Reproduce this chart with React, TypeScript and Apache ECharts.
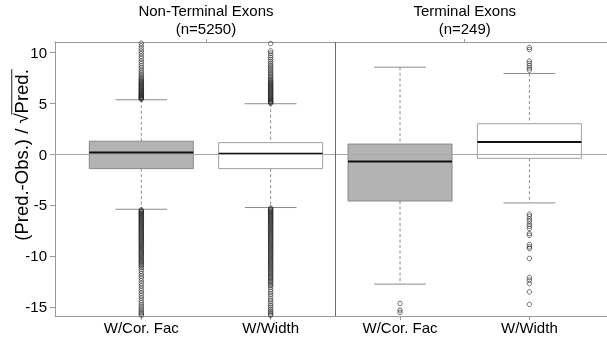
import React, { useEffect, useRef } from 'react';
import * as echarts from 'echarts';

const FONT = '"Liberation Sans", Arial, Helvetica, sans-serif';

// categories and panels
const categories = ['W/Cor. Fac', 'W/Width', 'W/Cor. Fac', 'W/Width'];
const categoryPositions = [1, 2, 3, 4];
const panelTitles = ['Non-Terminal Exons\n(n=5250)', 'Terminal Exons\n(n=249)'];
const panelCenters = [1.5, 3.5];
const panelDivider = 2.5;
const yTickValues = [-15, -10, -5, 0, 5, 10];
const yNameBefore = '(Pred.-Obs.) / \u221A';
const yNameRadicand = 'Pred.';

// box statistics: [lower whisker, Q1, median, Q3, upper whisker]
const boxNonTermCor = [-5.42, -1.43, 0.14, 1.26, 5.33];
const boxNonTermWidth = [-5.25, -1.43, 0.04, 1.12, 4.94];
const boxTermCor = [-12.77, -4.61, -0.72, 0.98, 8.53];
const boxTermWidth = [-4.8, -0.42, 1.18, 2.98, 7.91];
const boxFilled = [true, false, true, false];

// outliers
const outNonTermCor = [
  10.88, 10.62, 10.35, 10.1, 9.86, 9.6, 9.37, 9.12, 8.9, 8.66, 8.45, 8.22, 8.02, 7.85, 7.68, 7.52, 7.4, 7.28,
  7.18, 7.08, 6.98, 6.9, 6.81, 6.72, 6.63, 6.55, 6.46, 6.38, 6.3, 6.21, 6.13, 6.05, 5.97, 5.9, 5.82, 5.75,
  5.68, 5.61, 5.55, 5.49, 5.43, 5.38,
  -5.48, -5.56, -5.64, -5.72, -5.8, -5.89, -5.97, -6.06, -6.15, -6.24, -6.33, -6.42, -6.51, -6.6, -6.7,
  -6.79, -6.88, -6.98, -7.07, -7.17, -7.26, -7.36, -7.46, -7.55, -7.65, -7.75, -7.85, -7.95, -8.05, -8.15,
  -8.25, -8.35, -8.45, -8.55, -8.66, -8.76, -8.86, -8.97, -9.07, -9.18, -9.28, -9.39, -9.5, -9.6, -9.71,
  -9.82, -9.93, -10.04, -10.15, -10.26, -10.37, -10.49, -10.6, -10.72, -10.84, -10.96, -11.1, -11.3,
  -11.52, -11.75, -11.98, -12.2, -12.45, -12.7, -12.93, -13.18, -13.42, -13.66, -13.9, -14.14, -14.38,
  -14.6, -14.82, -15.03, -15.22, -15.4, -15.56, -15.7, -15.82,
];
const outNonTermWidth = [
  10.85, 10.12, 9.9, 9.68, 9.48, 9.28, 9.08, 8.9, 8.72, 8.55, 8.38, 8.22, 8.06, 7.9, 7.75, 7.6, 7.46, 7.33,
  7.2, 7.1, 7.0, 6.91, 6.82, 6.73, 6.64, 6.55, 6.46, 6.37, 6.28, 6.19, 6.1, 6.01, 5.92, 5.83, 5.74, 5.65,
  5.57, 5.49, 5.41, 5.33, 5.25, 5.18, 5.11, 5.04, 4.99,
  -5.3, -5.38, -5.47, -5.55, -5.64, -5.73, -5.82, -5.91, -6.0, -6.09, -6.18, -6.28, -6.37, -6.46, -6.56,
  -6.65, -6.75, -6.84, -6.94, -7.04, -7.13, -7.23, -7.33, -7.43, -7.53, -7.63, -7.73, -7.83, -7.93, -8.03,
  -8.13, -8.24, -8.34, -8.44, -8.55, -8.65, -8.75, -8.86, -8.96, -9.07, -9.17, -9.28, -9.39, -9.49, -9.6,
  -9.71, -9.82, -9.93, -10.04, -10.15, -10.26, -10.37, -10.48, -10.6, -10.71, -10.82, -10.94, -11.05,
  -11.17, -11.28, -11.4, -11.52, -11.64, -11.76, -11.88, -12.0, -12.12, -12.25, -12.38, -12.51, -12.64,
  -12.78, -12.92, -13.08, -13.3, -13.52, -13.75, -13.98, -14.22, -14.44, -14.66, -14.86, -15.05, -15.24,
  -15.42, -15.58, -15.72, -15.84,
];
const outTermCor = [-14.67, -15.32, -15.55];
const outTermWidth = [
  10.46, 10.26, 9.12, 8.9, 8.68, 8.45, 8.24,
  -5.91, -6.11, -6.37, -6.6, -6.89, -7.09, -7.31, -7.8, -7.97, -8.88, -9.12, -9.27, -10.25, -12.12, -12.38,
  -12.71, -13.53, -14.76,
];

const boxes = [boxNonTermCor, boxNonTermWidth, boxTermCor, boxTermWidth];
const outliers = [outNonTermCor, outNonTermWidth, outTermCor, outTermWidth];

export default function App() {
  const ref = useRef<HTMLDivElement>(null);

  useEffect(() => {
    if (!ref.current) return;
    const chart = echarts.init(ref.current, undefined, { renderer: 'svg' });

    const fs = 18.5;
    const canvas = document.createElement('canvas');
    const ctx = canvas.getContext('2d')!;
    ctx.font = `${fs}px ${FONT}`;
    const fullText = yNameBefore + yNameRadicand;
    const W = ctx.measureText(fullText).width;
    const preW = ctx.measureText(yNameBefore).width;
    const radW = ctx.measureText('\u221A').width;

    const boxData = boxes.map((b, i) => [categoryPositions[i], ...b]);
    const outlierData: number[][] = [];
    outliers.forEach((arr, i) => arr.forEach((v) => outlierData.push([categoryPositions[i], v])));

    const xMin = 0.333;
    const xMax = 4.6;

    const option: any = {
      animation: false,
      grid: { left: 55, right: 0, top: 42, bottom: 27 },
      xAxis: [
        {
          type: 'value',
          min: xMin,
          max: xMax,
          position: 'bottom',
          axisLine: { show: true, onZero: false, lineStyle: { color: '#9a9a9a', width: 1 } },
          axisTick: { show: true, length: 4, customValues: categoryPositions, lineStyle: { color: '#9a9a9a' } },
          axisLabel: {
            customValues: categoryPositions,
            formatter: (v: number) => categories[Math.round(v) - 1] ?? '',
            margin: 4,
            fontSize: 15,
            color: '#000',
            fontFamily: FONT,
          },
          splitLine: { show: false },
        },
        {
          type: 'value',
          min: xMin,
          max: xMax,
          position: 'top',
          axisLine: { show: true, onZero: false, lineStyle: { color: '#9a9a9a', width: 1 } },
          axisTick: { show: true, length: 3, customValues: panelCenters, lineStyle: { color: '#9a9a9a' } },
          axisLabel: {
            customValues: panelCenters,
            formatter: (v: number) => (v < panelDivider ? panelTitles[0] : panelTitles[1]),
            margin: 5,
            fontSize: 15,
            lineHeight: 18,
            color: '#000',
            fontFamily: FONT,
          },
          splitLine: { show: false },
        },
      ],
      yAxis: {
        type: 'value',
        min: -15.9,
        max: 11,
        axisLine: { show: true, onZero: false, lineStyle: { color: '#9a9a9a', width: 1 } },
        axisTick: { show: true, length: 5, customValues: yTickValues, lineStyle: { color: '#9a9a9a' } },
        axisLabel: {
          customValues: yTickValues,
          margin: 8,
          fontSize: 15,
          color: '#000',
          fontFamily: FONT,
        },
        splitLine: { show: false },
      },
      series: [
        {
          type: 'line',
          xAxisIndex: 0,
          data: [],
          z: 1,
          silent: true,
          markLine: {
            silent: true,
            symbol: ['none', 'none'],
            label: { show: false },
            lineStyle: { type: 'solid', width: 1 },
            data: [
              { yAxis: 0, lineStyle: { color: '#a8a8a8', type: 'solid', width: 1 } },
              { xAxis: panelDivider, lineStyle: { color: '#6e6e6e', type: 'solid', width: 1 } },
            ],
          },
        },
        {
          type: 'custom',
          xAxisIndex: 0,
          z: 2,
          silent: true,
          encode: { x: 0, y: [1, 2, 3, 4, 5] },
          data: boxData,
          renderItem: (params: any, api: any) => {
            const x = api.value(0);
            const pLo = api.coord([x, api.value(1)]);
            const pQ1 = api.coord([x, api.value(2)]);
            const pMed = api.coord([x, api.value(3)]);
            const pQ3 = api.coord([x, api.value(4)]);
            const pHi = api.coord([x, api.value(5)]);
            const half = api.size([0.402, 0])[0];
            const capHalf = api.size([0.2, 0])[0];
            const cx = pLo[0];
            const filled = boxFilled[params.dataIndex];
            const wStyle = { stroke: '#8c8c8c', lineWidth: 1, lineDash: [3, 2.5] };
            const cStyle = { stroke: '#8c8c8c', lineWidth: 1 };
            return {
              type: 'group',
              children: [
                { type: 'line', shape: { x1: cx, y1: pHi[1], x2: cx, y2: pQ3[1] }, style: wStyle },
                { type: 'line', shape: { x1: cx, y1: pQ1[1], x2: cx, y2: pLo[1] }, style: wStyle },
                { type: 'line', shape: { x1: cx - capHalf, y1: pHi[1], x2: cx + capHalf, y2: pHi[1] }, style: cStyle },
                { type: 'line', shape: { x1: cx - capHalf, y1: pLo[1], x2: cx + capHalf, y2: pLo[1] }, style: cStyle },
                {
                  type: 'rect',
                  shape: { x: cx - half, y: pQ3[1], width: half * 2, height: pQ1[1] - pQ3[1] },
                  style: { fill: filled ? '#b3b3b3' : '#ffffff', stroke: filled ? '#8a8a8a' : '#a0a0a0', lineWidth: 1 },
                },
                { type: 'line', shape: { x1: cx - half, y1: pMed[1], x2: cx + half, y2: pMed[1] }, style: { stroke: '#111', lineWidth: 2 } },
              ],
            };
          },
        },
        {
          type: 'scatter',
          xAxisIndex: 0,
          z: 3,
          silent: true,
          symbol: 'circle',
          symbolSize: 4.5,
          itemStyle: { color: 'rgba(0,0,0,0)', borderColor: '#1e1e1e', borderWidth: 0.8 },
          data: outlierData,
        },
      ],
      graphic: [
        {
          type: 'group',
          x: 21,
          y: 155,
          rotation: Math.PI / 2,
          children: [
            {
              type: 'text',
              style: {
                text: fullText,
                x: 0,
                y: 0,
                align: 'center',
                verticalAlign: 'middle',
                font: `${fs}px ${FONT}`,
                fill: '#000',
              },
            },
            {
              type: 'line',
              shape: { x1: -W / 2 + preW - radW * 0.12, y1: -fs * 0.5, x2: W / 2, y2: -fs * 0.5 },
              style: { stroke: '#000', lineWidth: 0.9 },
            },
          ],
        },
      ],
    };

    chart.setOption(option);
    return () => chart.dispose();
  }, []);

  return <div ref={ref} style={{ position: 'fixed', left: 0, top: 0, width: 607, height: 343 }} />;
}
